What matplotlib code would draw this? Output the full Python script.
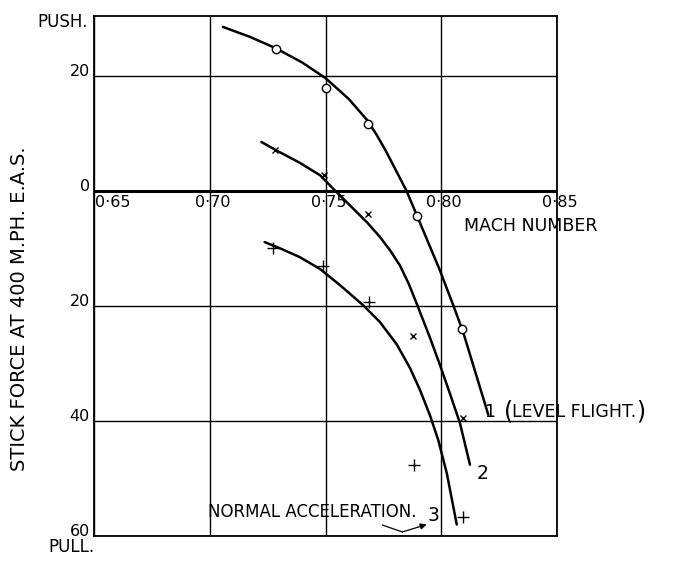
import matplotlib.pyplot as plt

# axis ticks
mach_ticks = [0.65, 0.70, 0.75, 0.80, 0.85]
mach_labels = ['0·65', '0·70', '0·75', '0·80', '0·85']
force_ticks = [20, 0, -20, -40, -60]
force_labels = ['20', '0', '20', '40', '60']

# curve 1 (level flight), measured points 'o'
curve1_x = [0.7057, 0.7172, 0.7285, 0.740, 0.750, 0.760, 0.768, 0.772, 0.776,
            0.785, 0.7894, 0.7992, 0.8052, 0.8095, 0.8203]
curve1_y = [28.5, 26.8, 24.8, 22.3, 19.6, 16.0, 12.3, 9.8, 7.0,
            0.0, -4.2, -13.6, -19.9, -24.6, -38.9]
points1_x = [0.7285, 0.750, 0.7683, 0.7894, 0.8088]
points1_y = [24.7, 17.8, 11.7, -4.4, -24.0]

# curve 2, measured points 'x'
curve2_x = [0.7223, 0.7285, 0.7388, 0.7477, 0.7535, 0.762, 0.768, 0.7735,
            0.778, 0.7822, 0.786, 0.7894, 0.7951, 0.7992, 0.8038, 0.8081,
            0.8124]
curve2_y = [8.5, 7.1, 4.9, 2.7, 0.3, -3.1, -5.5, -8.0,
            -10.4, -13.0, -16.2, -19.6, -25.5, -30.0, -35.3, -40.4,
            -47.6]
points2_x = [0.728, 0.7495, 0.7685, 0.7879, 0.8095]
points2_y = [7.1, 2.8, -4.1, -25.3, -39.5]

# curve 3 (normal acceleration), measured points '+'
curve3_x = [0.7237, 0.7310, 0.7388, 0.7477, 0.7563, 0.7663, 0.7735, 0.7808,
            0.7865, 0.7908, 0.7951, 0.7987, 0.8024, 0.8067]
curve3_y = [-8.9, -10.1, -11.5, -13.6, -16.4, -19.9, -22.8, -26.7,
            -30.8, -34.6, -39.0, -43.3, -49.1, -58.0]
points3_x = [0.7272, 0.7490, 0.7689, 0.7884, 0.8093]
points3_y = [-9.9, -13.1, -19.3, -47.6, -56.7]

plt.rcParams['font.family'] = ['DejaVu Sans']

fig = plt.figure(figsize=(6.73, 5.61), dpi=100)
ax = fig.add_axes([94 / 673, 25 / 561, 463 / 673, 520 / 561])

ax.set_xlim(0.65, 0.85)
ax.set_ylim(-60, 30.4)

for spine in ax.spines.values():
    spine.set_linewidth(1.3)
    spine.set_color('black')

ax.set_xticks(mach_ticks)
ax.set_xticklabels([])
ax.set_yticks(force_ticks)
ax.set_yticklabels(force_labels, fontsize=11.5)
for lbl in ax.get_yticklabels():
    lbl.set_va('baseline')
ax.tick_params(length=0, pad=3)
ax.grid(True, color='black', linewidth=1.0)
ax.axhline(0, color='black', linewidth=2.2, zorder=2)

# mach labels sit under the zero line
for x, lab in zip(mach_ticks, mach_labels):
    if x == mach_ticks[0]:
        ax.annotate(lab, (x, 0), xytext=(1, -3), textcoords='offset points',
                    ha='left', va='top', fontsize=11.5)
    else:
        ax.annotate(lab, (x, 0), xytext=(2, -3), textcoords='offset points',
                    ha='center', va='top', fontsize=11.5)

# curves
line_kw = dict(color='black', linewidth=1.8, zorder=3,
               solid_joinstyle='round', solid_capstyle='round')
ax.plot(curve1_x, curve1_y, **line_kw)
ax.plot(curve2_x, curve2_y, **line_kw)
ax.plot(curve3_x, curve3_y, **line_kw)

ax.plot(points1_x, points1_y, 'o', markersize=6, markerfacecolor='white',
        markeredgecolor='black', markeredgewidth=1.0, zorder=4)
ax.plot(points2_x, points2_y, 'x', markersize=5, color='black',
        markeredgewidth=1.0, zorder=4)
ax.plot(points3_x, points3_y, '+', markersize=8, color='black',
        markeredgewidth=1.0, zorder=4)

# labels
ax.text(0.8099, -6.1, 'MACH NUMBER', fontsize=12.5, ha='left', va='center')
ax.text(0.8211, -38.4, '1', fontsize=12.5, ha='center', va='center')
ax.text(0.8290, -38.3, '(', fontsize=17, ha='center', va='center')
ax.text(0.8306, -38.4, 'LEVEL FLIGHT.', fontsize=12.5, ha='left', va='center')
ax.text(0.8862, -38.3, ')', fontsize=17, ha='center', va='center', clip_on=False)
ax.text(0.8177, -49.2, '2', fontsize=13.5, ha='center', va='center')
ax.text(0.6991, -55.8, 'NORMAL ACCELERATION.', fontsize=12, ha='left', va='center')
ax.text(0.7965, -56.5, '3', fontsize=13.5, ha='center', va='center')
ax.plot([0.7746, 0.7832], [-58.1, -59.3], color='black', linewidth=0.9)
ax.annotate('', xy=(0.7937, -58.0), xytext=(0.7832, -59.3),
            arrowprops=dict(arrowstyle='-|>', color='black', lw=0.9,
                            mutation_scale=9, shrinkA=0, shrinkB=0))

fig.text(88 / 673, 1 - 22 / 561, 'PUSH.', fontsize=12, ha='right', va='center')
fig.text(48 / 673, 1 - 547 / 561, 'PULL.', fontsize=12, ha='left', va='center')
fig.text(20 / 673, 1 - 309 / 561, 'STICK FORCE AT 400 M.PH. E.A.S.', fontsize=14,
         rotation=90, ha='center', va='center')

fig.savefig('out.png', dpi=100)
